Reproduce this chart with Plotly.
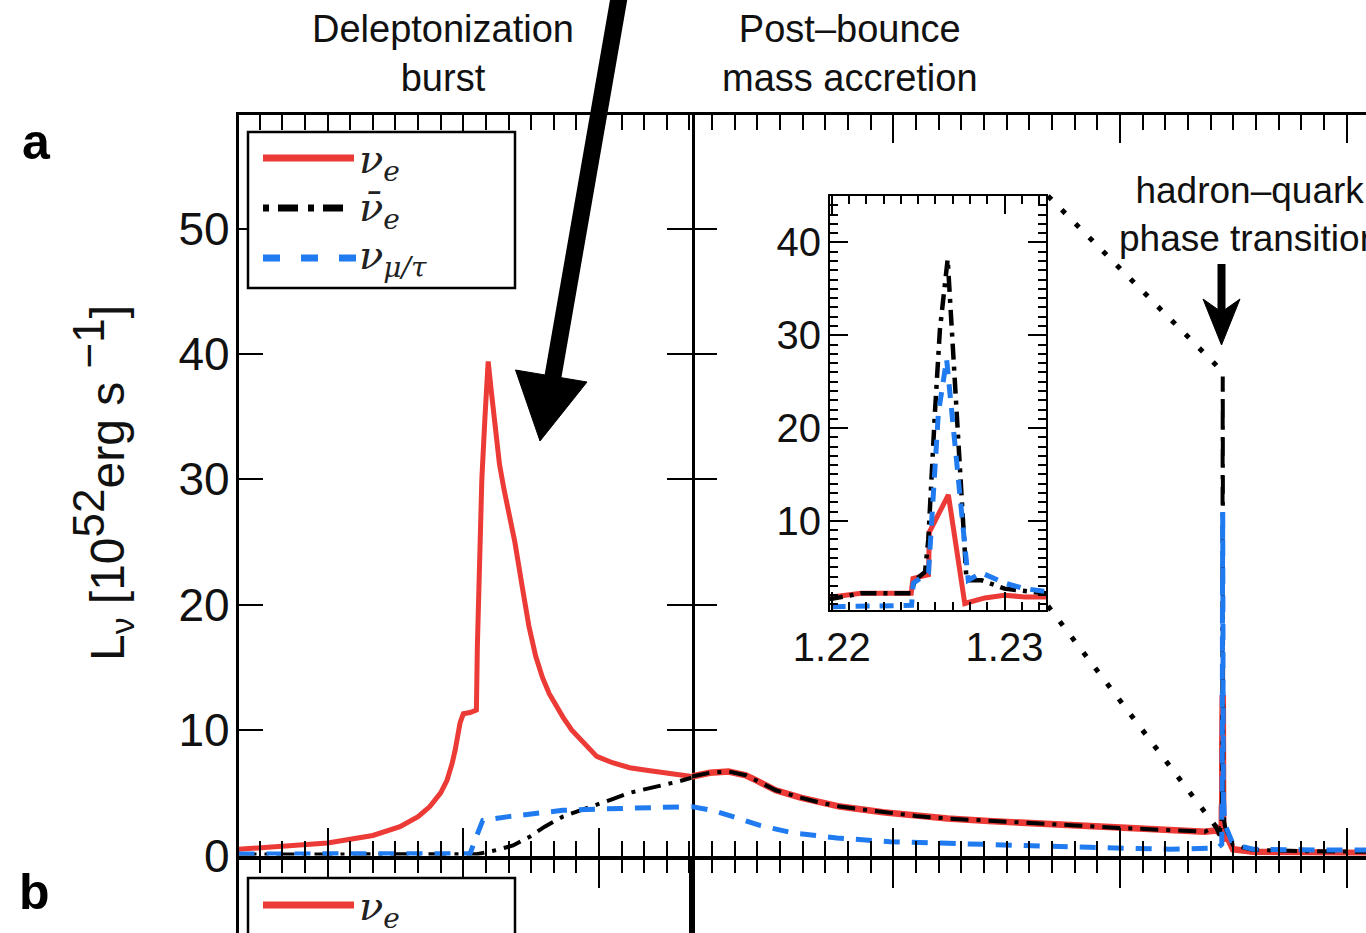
import plotly.graph_objects as go

W, H = 1366, 933

# ---------------- data ----------------
# Deleptonization burst section: time relative to bounce [ms], luminosity [1e52 erg/s]
nue_burst_t = [-4.97, -4.0, -3.0, -2.0, -1.4, -1.0, -0.74, -0.5, -0.36, -0.25, -0.18, -0.07, 0.0, 0.15, 0.29,
               0.31, 0.34, 0.41, 0.48, 0.55, 0.62, 0.70, 0.80, 0.90, 1.00, 1.14, 1.30, 1.45, 1.60, 1.75,
               1.90, 2.05, 2.21, 2.40, 2.58, 2.75, 2.95, 3.30, 3.68, 4.05, 4.41, 4.75, 5.05]
nue_burst_L = [0.5, 0.7, 1.0, 1.6, 2.3, 3.1, 3.9, 5.0, 6.0, 7.3, 8.4, 10.6, 11.3, 11.4, 11.6,
               16.5, 22.0, 30.0, 35.0, 39.4, 37.0, 34.0, 31.2, 29.2, 27.6, 25.0, 21.5, 18.3, 15.9, 14.2,
               12.9, 11.9, 11.0, 10.0, 9.3, 8.6, 7.9, 7.4, 7.0, 6.8, 6.6, 6.45, 6.3]

anue_burst_t = [-4.97, 0.30, 0.75, 1.10, 1.47, 1.80, 2.20, 2.60, 2.95, 3.30, 3.68, 4.05, 4.41, 4.75, 5.05]
anue_burst_L = [0.08, 0.10, 0.45, 0.80, 1.5, 2.3, 3.1, 3.6, 4.0, 4.5, 5.0, 5.3, 5.6, 5.9, 6.2]

numu_burst_t = [-4.97, 0.15, 0.30, 0.43, 1.00, 1.47, 2.20, 2.95, 3.68, 4.41, 5.05]
numu_burst_L = [0.12, 0.15, 1.6, 2.8, 3.1, 3.3, 3.6, 3.7, 3.8, 3.9, 3.9]

# Post-bounce accretion section: time post bounce [s]
acc_t = [0.0553, 0.0955, 0.1366, 0.1745, 0.2000, 0.2407, 0.2976, 0.3400, 0.3823, 0.4772, 0.5500, 0.6195,
         0.7100, 0.8081, 0.9000, 0.9978, 1.0900, 1.1875, 1.2113]
nue_acc_L = [6.3, 6.6, 6.7, 6.4, 5.95, 5.2, 4.6, 4.2, 3.9, 3.45, 3.15, 2.95, 2.75, 2.6, 2.4, 2.2, 2.05, 1.9, 2.0]
anue_acc_L = [6.3, 6.6, 6.7, 6.4, 5.95, 5.2, 4.6, 4.2, 3.9, 3.45, 3.15, 2.95, 2.75, 2.6, 2.4, 2.2, 2.05, 1.9, 2.3]
numu_acc_t = [0.0553, 0.1000, 0.1463, 0.2058, 0.2786, 0.3757, 0.4926, 0.6404, 0.7860, 0.9338, 1.1100, 1.1985, 1.2150]
numu_acc_L = [3.9, 3.6, 3.1, 2.4, 1.8, 1.4, 1.1, 0.92, 0.76, 0.65, 0.5, 0.5, 0.6]

# Hadron-quark phase transition burst (inset range)
nue_pt_t = [1.2200, 1.2217, 1.2246, 1.2247, 1.2256, 1.22565, 1.22675, 1.2277, 1.22886, 1.2300, 1.23117, 1.2324]
nue_pt_L = [1.8, 2.2, 2.2, 3.8, 4.2, 8.8, 12.8, 1.1, 1.7, 2.0, 1.8, 1.8]
anue_pt_t = [1.2200, 1.2217, 1.2246, 1.2248, 1.2254, 1.22559, 1.22597, 1.22626, 1.22671, 1.22703, 1.22732,
             1.22761, 1.2278, 1.22867, 1.2300, 1.2324]
anue_pt_L = [1.6, 2.2, 2.2, 3.6, 4.5, 8.0, 21.6, 30.6, 38.2, 28.1, 18.0, 10.8, 3.6, 3.6, 2.7, 2.2]
numu_pt_t = [1.2200, 1.22462, 1.22472, 1.2256, 1.22617, 1.22665, 1.22751, 1.2279, 1.22867, 1.2300, 1.23117, 1.2324]
numu_pt_L = [0.75, 0.9, 3.3, 4.4, 21.6, 27.4, 10.8, 3.6, 4.4, 3.3, 2.7, 2.4]

# After the phase transition
late_t = [1.2493, 1.2934, 1.4000, 1.5427]
nue_late_L = [0.5, 0.3, 0.25, 0.2]
anue_late_L = [0.84, 0.44, 0.35, 0.3]
numu_late_L = [0.9, 0.5, 0.45, 0.44]

ytick_vals = [0, 10, 20, 30, 40, 50]
inset_xticks = [1.22, 1.23]
inset_yticks = [10, 20, 30, 40]

RED = "#EC3A36"
BLACK = "#000000"
BLUE = "#1F7BEF"
SANS = "Liberation Sans, Arial, sans-serif"
SERIF = "DejaVu Serif, serif"


def px(x):
    return x / W


def py(y):
    return 1 - y / H


fig = go.Figure()

sty = {
    "nue": dict(color=RED, width=5),
    "anue": dict(color=BLACK, width=4, dash="18px,8px,4px,8px"),
    "numu": dict(color=BLUE, width=5, dash="16px,12px"),
}
# --- main panel, left (burst) section ---
fig.add_trace(go.Scatter(x=nue_burst_t, y=nue_burst_L, xaxis="x", yaxis="y", mode="lines", line=sty["nue"]))
fig.add_trace(go.Scatter(x=anue_burst_t, y=anue_burst_L, xaxis="x", yaxis="y", mode="lines", line=sty["anue"]))
fig.add_trace(go.Scatter(x=numu_burst_t, y=numu_burst_L, xaxis="x", yaxis="y", mode="lines", line=sty["numu"]))

# --- main panel, right (post-bounce) section ---
nue_post_t = acc_t + nue_pt_t + late_t
nue_post_L = nue_acc_L + nue_pt_L + nue_late_L
anue_post_t = acc_t + anue_pt_t + late_t
anue_post_L = anue_acc_L + anue_pt_L + anue_late_L
numu_post_t = numu_acc_t + numu_pt_t + late_t
numu_post_L = numu_acc_L + numu_pt_L + numu_late_L

fig.add_trace(go.Scatter(x=nue_post_t, y=nue_post_L, xaxis="x2", yaxis="y2", mode="lines",
                         line=dict(color=RED, width=6.5)))
fig.add_trace(go.Scatter(x=anue_post_t, y=anue_post_L, xaxis="x2", yaxis="y2", mode="lines", line=sty["anue"]))
fig.add_trace(go.Scatter(x=numu_post_t, y=numu_post_L, xaxis="x2", yaxis="y2", mode="lines", line=sty["numu"]))

# --- inset ---
fig.add_trace(go.Scatter(x=nue_post_t, y=nue_post_L, xaxis="x5", yaxis="y5", mode="lines",
                         line=dict(color=RED, width=5)))
fig.add_trace(go.Scatter(x=anue_post_t, y=anue_post_L, xaxis="x5", yaxis="y5", mode="lines",
                         line=dict(color=BLACK, width=4.5, dash="16px,7px,4px,7px")))
fig.add_trace(go.Scatter(x=numu_post_t, y=numu_post_L, xaxis="x5", yaxis="y5", mode="lines",
                         line=dict(color=BLUE, width=5, dash="14px,10px")))

# empty traces to create panel b axes
fig.add_trace(go.Scatter(x=[], y=[], xaxis="x3", yaxis="y3"))
fig.add_trace(go.Scatter(x=[], y=[], xaxis="x4", yaxis="y4"))

# ---------------- axes ----------------
XL0, XDIV = 238.5, 691.7
Y0, YTOP = 855.5, 115
YB_TOP = 860
d_left = [px(XL0), px(XDIV)]
d_right = [px(XDIV), 1.0]
d_main_y = [py(Y0), py(YTOP)]
yr_main = [0, (Y0 - YTOP) / 12.54]

common_x = dict(showgrid=False, zeroline=False, showline=True, linecolor="black", linewidth=2.5,
                ticks="inside", tickcolor="black", tickwidth=2, ticklen=28, showticklabels=False,
                automargin=False)
fig.update_layout(
    xaxis=dict(domain=d_left, range=[-4.97, 5.05], anchor="y", tick0=0, dtick=3, mirror="allticks",
               minor=dict(dtick=0.5, ticklen=15, tickwidth=2, ticks="inside", tickcolor="black"), **common_x),
    xaxis2=dict(domain=d_right, range=[0.0553, 1.5427], anchor="y2", tick0=0, dtick=0.5, mirror="allticks",
                minor=dict(dtick=0.05, ticklen=15, tickwidth=2, ticks="inside", tickcolor="black"), **common_x),
    yaxis=dict(domain=d_main_y, range=yr_main, anchor="x", showgrid=False, zeroline=False, showline=True,
               linecolor="black", linewidth=2.5, ticks="inside", tickcolor="black", tickwidth=2, ticklen=25,
               mirror="allticks", tickvals=ytick_vals, ticklabelstandoff=-3, automargin=False,
               tickfont=dict(family=SANS, size=46, color="#111")),
    yaxis2=dict(domain=d_main_y, range=yr_main, anchor="x2", showgrid=False, zeroline=False, showline=False,
                ticks="inside", tickcolor="black", tickwidth=2, ticklen=25,
                tickvals=ytick_vals, showticklabels=False, automargin=False),
    # panel b (only its top strip is visible)
    xaxis3=dict(domain=d_left, range=[-4.97, 5.05], anchor="y3", side="top", tick0=0, dtick=3,
                minor=dict(dtick=0.5, ticklen=13, tickwidth=2, ticks="inside", tickcolor="black"), **common_x),
    xaxis4=dict(domain=d_right, range=[0.0553, 1.5427], anchor="y4", side="top", tick0=0, dtick=0.5,
                minor=dict(dtick=0.05, ticklen=13, tickwidth=2, ticks="inside", tickcolor="black"), **common_x),
    yaxis3=dict(domain=[0, py(YB_TOP)], range=[0, 1], anchor="x3", showgrid=False, zeroline=False,
                showline=True, linecolor="black", linewidth=3, mirror=True, ticks="", showticklabels=False,
                automargin=False),
    yaxis4=dict(domain=[0, py(YB_TOP)], range=[0, 1], anchor="x4", showgrid=False, zeroline=False,
                showline=True, linecolor="black", linewidth=3, ticks="", showticklabels=False, automargin=False),
    # inset
    xaxis5=dict(domain=[px(830), px(1046)], range=[1.2199, 1.2324], anchor="y5", showgrid=False, zeroline=False,
                showline=True, linecolor="black", linewidth=2.2, ticks="inside", tickcolor="black", tickwidth=2,
                ticklen=18, mirror="allticks", tickvals=inset_xticks, ticktext=["1.22", "1.23"],
                minor=dict(dtick=0.001, tick0=1.22, ticklen=8, tickwidth=1.8, ticks="inside", tickcolor="black"),
                ticklabelstandoff=1, automargin=False, tickfont=dict(family=SANS, size=40, color="#111")),
    yaxis5=dict(domain=[py(610), py(196)], range=[0.4, 45.0], anchor="x5", showgrid=False, zeroline=False,
                showline=True, linecolor="black", linewidth=2.2, ticks="inside", tickcolor="black", tickwidth=2,
                ticklen=18, mirror="allticks", tickvals=inset_yticks,
                minor=dict(dtick=1, ticklen=8, tickwidth=1.8, ticks="inside", tickcolor="black"),
                ticklabelstandoff=-1, automargin=False, tickfont=dict(family=SANS, size=40, color="#111")),
)

# ---------------- decorations ----------------
shapes = []
# legend panel a
shapes.append(dict(type="rect", xref="paper", yref="paper", x0=px(248), x1=px(515), y0=py(288), y1=py(132),
                   line=dict(color="black", width=2.5), fillcolor="white", layer="above"))
shapes.append(dict(type="line", xref="paper", yref="paper", x0=px(263), x1=px(354), y0=py(158), y1=py(158),
                   line=dict(color=RED, width=7)))
shapes.append(dict(type="line", xref="paper", yref="paper", x0=px(263), x1=px(343), y0=py(208), y1=py(208),
                   line=dict(color=BLACK, width=7, dash="6px,9px,20px,10px")))
shapes.append(dict(type="line", xref="paper", yref="paper", x0=px(263), x1=px(356), y0=py(258), y1=py(258),
                   line=dict(color=BLUE, width=7, dash="17px,21px")))
# legend panel b
shapes.append(dict(type="rect", xref="paper", yref="paper", x0=px(248), x1=px(515), y0=py(960), y1=py(878),
                   line=dict(color="black", width=2.5), fillcolor="white", layer="above"))
shapes.append(dict(type="line", xref="paper", yref="paper", x0=px(263), x1=px(354), y0=py(905), y1=py(905),
                   line=dict(color=RED, width=7)))
# big arrow (deleptonization burst)
shapes.append(dict(type="line", xref="paper", yref="paper", x0=px(620), y0=py(-8), x1=px(552), y1=py(382),
                   line=dict(color="black", width=17)))
shapes.append(dict(type="path", xref="paper", yref="paper",
                   path=f"M {px(515.5)} {py(370)} L {px(587)} {py(382)} L {px(540)} {py(441)} Z",
                   fillcolor="black", line=dict(color="black", width=1)))
# small arrow (phase transition)
shapes.append(dict(type="line", xref="paper", yref="paper", x0=px(1221.5), y0=py(264), x1=px(1221.5), y1=py(312),
                   line=dict(color="black", width=8)))
shapes.append(dict(type="path", xref="paper", yref="paper",
                   path=f"M {px(1203)} {py(299)} L {px(1221.5)} {py(312)} L {px(1240)} {py(299)} L {px(1221.5)} {py(345)} Z",
                   fillcolor="black", line=dict(color="black", width=1)))
# dotted zoom connectors
shapes.append(dict(type="line", xref="paper", yref="paper", x0=px(1048), y0=py(196), x1=px(1220), y1=py(369),
                   line=dict(color="black", width=5, dash="5px,14.5px")))
shapes.append(dict(type="line", xref="paper", yref="paper", x0=px(1048), y0=py(606), x1=px(1220), y1=py(832),
                   line=dict(color="black", width=5, dash="5px,14.5px")))
fig.update_layout(shapes=shapes)

ann = []
hfont = dict(family=SANS, size=38, color="#111")
ann.append(dict(text="Deleptonization<br>burst", x=px(443), y=py(53), xref="paper", yref="paper",
                showarrow=False, font=hfont, xanchor="center", yanchor="middle"))
ann.append(dict(text="Post\u2013bounce<br>mass accretion", x=px(850), y=py(53), xref="paper", yref="paper",
                showarrow=False, font=hfont, xanchor="center", yanchor="middle"))
ann.append(dict(text="hadron\u2013quark<br>phase transition", x=px(1249), y=py(214), xref="paper", yref="paper",
                showarrow=False, font=dict(family=SANS, size=37, color="#111"), xanchor="center", yanchor="middle"))
ann.append(dict(text="<b>a</b>", x=px(36), y=py(142), xref="paper", yref="paper", showarrow=False,
                font=dict(family=SANS, size=50, color="black"), xanchor="center", yanchor="middle"))
ann.append(dict(text="<b>b</b>", x=px(34), y=py(892), xref="paper", yref="paper", showarrow=False,
                font=dict(family=SANS, size=50, color="black"), xanchor="center", yanchor="middle"))
ann.append(dict(text="L<sub>\u03bd</sub> [10<sup><span style='font-size:44px'>52</span></sup>erg s "
                     "<sup><span style='font-size:44px'>\u22121</span></sup>]",
                x=px(102), y=py(483), xref="paper", yref="paper", showarrow=False, textangle=-90,
                font=dict(family=SANS, size=48, color="#111"), xanchor="center", yanchor="middle"))
lfont = dict(family=SERIF, size=40, color="#222")
ann.append(dict(text="<i>\u03bd<sub>e</sub></i>", x=px(357), y=py(162), xref="paper", yref="paper",
                showarrow=False, font=lfont, xanchor="left", yanchor="middle"))
ann.append(dict(text="<i>\u03bd\u0304<sub>e</sub></i>", x=px(357), y=py(210), xref="paper", yref="paper",
                showarrow=False, font=lfont, xanchor="left", yanchor="middle"))
ann.append(dict(text="<i>\u03bd<sub>\u03bc/\u03c4</sub></i>", x=px(357), y=py(258), xref="paper", yref="paper",
                showarrow=False, font=lfont, xanchor="left", yanchor="middle"))
ann.append(dict(text="<i>\u03bd<sub>e</sub></i>", x=px(357), y=py(909), xref="paper", yref="paper",
                showarrow=False, font=lfont, xanchor="left", yanchor="middle"))
fig.update_layout(annotations=ann)

fig.update_layout(width=W, height=H, margin=dict(l=0, r=0, t=0, b=0, autoexpand=False), showlegend=False,
                  paper_bgcolor="white", plot_bgcolor="white")

fig.write_html("out.html")
